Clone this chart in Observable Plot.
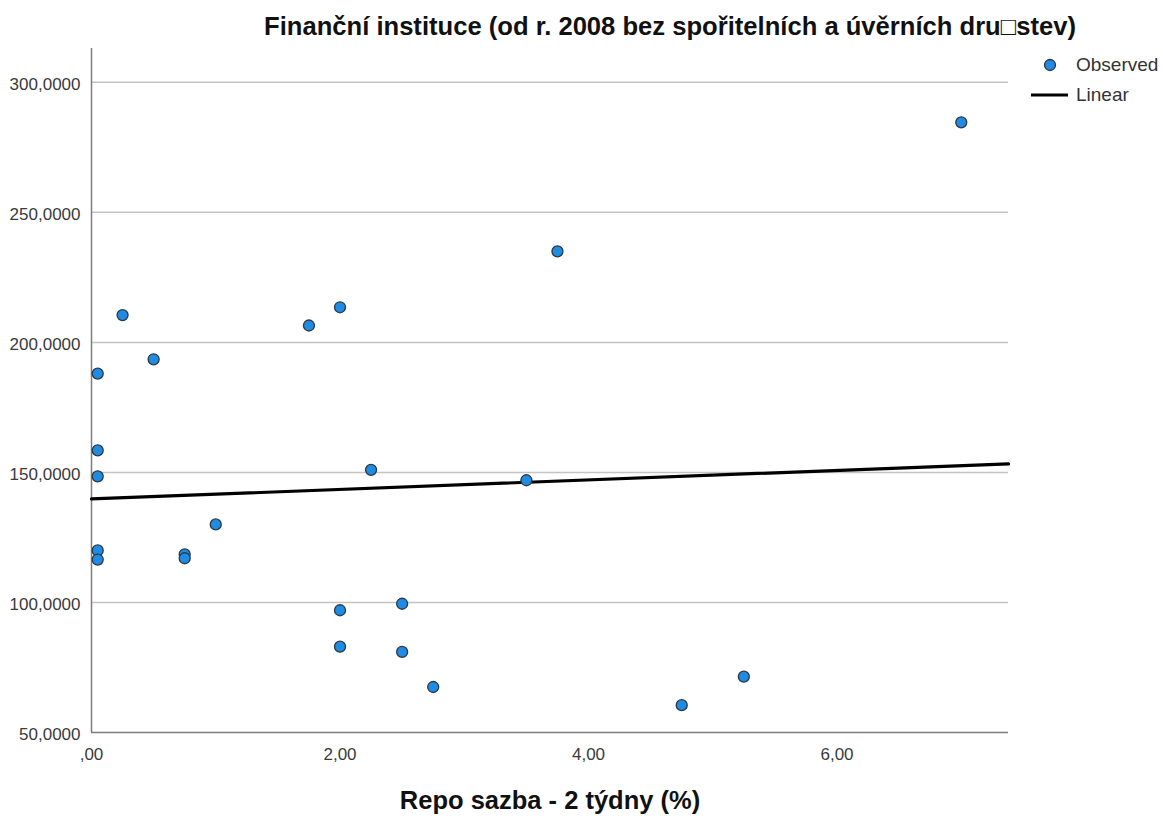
<!DOCTYPE html>
<html>
<head>
<meta charset="utf-8">
<script src="https://cdn.jsdelivr.net/npm/d3@7"></script>
<script src="https://cdn.jsdelivr.net/npm/@observablehq/plot@0.6"></script>
<style>
  body { margin: 0; background: #fff; }
  #wrap { position: relative; width: 1163px; height: 819px; font-family: "Liberation Sans", Arial, sans-serif; }
  #legend { position: absolute; left: 1028px; top: 50px; font-size: 19px; color: #333; line-height: 30px; }
  #legend .row { display: flex; align-items: center; height: 30px; }
  #legend svg { width: 44px; height: 24px; margin-right: 4px; }
</style>
</head>
<body>
<div id="wrap">
  <div id="chart"></div>
  <div id="legend"></div>
</div>
<script>
// Data
const repoRate = [7.0, 3.75, 0.25, 0.05, 0.5, 1.75, 2.0, 0.05, 0.05, 2.25, 3.5, 1.0, 0.05, 0.05, 0.75, 0.75, 2.0, 2.5, 2.0, 2.5, 2.75, 4.75, 5.25];
const institutions = [284.6, 235.0, 210.5, 188.0, 193.5, 206.5, 213.5, 158.5, 148.5, 151.0, 147.0, 130.0, 120.0, 116.5, 118.5, 117.0, 97.0, 99.5, 83.0, 81.0, 67.5, 60.5, 71.5];
const yTicks = [50, 100, 150, 200, 250, 300];
const xTicks = [0, 2, 4, 6];
const titleText = "Finanční instituce (od r. 2008 bez spořitelních a úvěrních dru\u25A1stev)";
const xLabel = "Repo sazba - 2 týdny (%)";
const legendLabels = ["Observed", "Linear"];

const data = repoRate.map((x, i) => ({x, y: institutions[i]}));

// Least-squares linear fit computed from the data
const mx = d3.mean(repoRate), my = d3.mean(institutions);
const slope = d3.sum(data, d => (d.x - mx) * (d.y - my)) / d3.sum(data, d => (d.x - mx) ** 2);
const intercept = my - slope * mx;
const xDomain = [0, 7.38];
const yDomain = [50, 313];
const fit = xDomain.map(x => ({x, y: intercept + slope * x}));

const dotFill = "#1f8be3";
const dotStroke = "#2b3a47";

const fmtY = d => d.toFixed(4).replace(".", ",");
const fmtX = d => d.toFixed(2).replace(".", ",").replace(/^0,/, ",");

const chart = Plot.plot({
  width: 1163,
  height: 819,
  marginLeft: 91,
  marginRight: 155,
  marginTop: 48,
  marginBottom: 87,
  style: {fontFamily: "'Liberation Sans', Arial, sans-serif", background: "#fff"},
  x: {domain: xDomain},
  y: {domain: yDomain},
  marks: [
    Plot.gridY(yTicks.filter(t => t > 50), {stroke: "#c4c4c4", strokeOpacity: 1, strokeWidth: 1.5}),
    Plot.ruleX([0], {stroke: "#7d7d7d", strokeWidth: 1.5}),
    Plot.ruleY([50], {stroke: "#7d7d7d", strokeWidth: 1.5}),
    Plot.axisY(yTicks, {tickSize: 0, tickPadding: 11, tickFormat: fmtY, fontSize: 17, fill: "#3a3a3a", label: null, dy: 2}),
    Plot.axisX(xTicks, {tickSize: 0, tickPadding: 15, tickFormat: fmtX, fontSize: 17, fill: "#3a3a3a", label: null}),
    Plot.line(fit, {x: "x", y: "y", stroke: "#000", strokeWidth: 3.2}),
    Plot.dot(data, {x: "x", y: "y", r: 5.5, fill: dotFill, stroke: dotStroke, strokeWidth: 1.3}),
    Plot.text([titleText], {frameAnchor: "top", dx: 120, dy: -32, fontSize: 25.6, fontWeight: "bold", fill: "#111", textAnchor: "middle"}),
    Plot.text([xLabel], {frameAnchor: "bottom", dy: 76, fontSize: 25.5, fontWeight: "bold", fill: "#111"})
  ]
});
document.getElementById("chart").appendChild(chart);

// Legend
const legend = document.getElementById("legend");
legend.innerHTML = `
  <div class="row"><svg viewBox="0 0 44 24"><circle cx="22" cy="12" r="5.5" fill="${dotFill}" stroke="${dotStroke}" stroke-width="1.3"/></svg><span>${legendLabels[0]}</span></div>
  <div class="row"><svg viewBox="0 0 44 24"><line x1="3" x2="40" y1="12" y2="12" stroke="#000" stroke-width="3.2"/></svg><span>${legendLabels[1]}</span></div>`;
</script>
</body>
</html>
